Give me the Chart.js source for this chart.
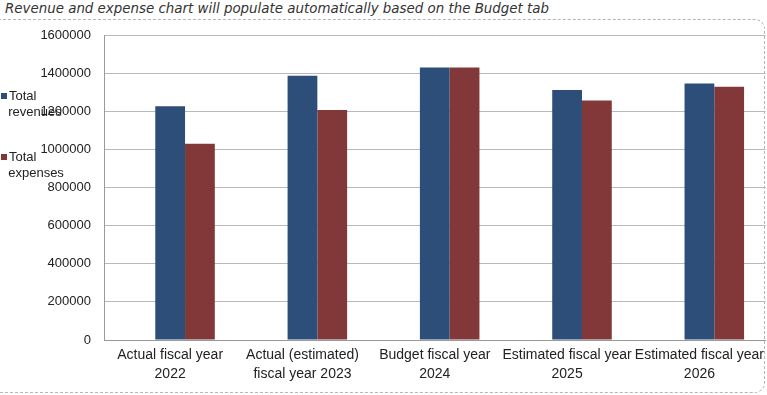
<!DOCTYPE html>
<html lang="en">
<head>
  <meta charset="UTF-8">
  <title>Revenue and expense chart</title>
  <script src="https://cdn.jsdelivr.net/npm/chart.js"></script>
  <style>
    html, body { margin: 0; padding: 0; background: #fff; }
    body { width: 767px; height: 395px; overflow: hidden; position: relative; font-family: "Liberation Sans", Arial, sans-serif; }
    .title { position: absolute; left: 5px; top: 1px; font-family: "DejaVu Sans", sans-serif; font-style: italic; font-size: 13.4px; color: #333; white-space: nowrap; }
    .frame { position: absolute; left: -12px; top: 19px; width: 775px; height: 372px; border: 1px dashed #b5b5b5; border-radius: 10px; }
    .wrap { position: absolute; left: 0; top: 0; width: 770px; height: 395px; }
    .legend { position: absolute; left: 1px; font-size: 13px; color: #222; line-height: 16px; }
    .legend i { display: inline-block; width: 6px; height: 6px; margin-right: 2px; vertical-align: 1px; }
  </style>
</head>
<body>
  <div class="title">Revenue and expense chart will populate automatically based on the Budget tab</div>
  <div class="frame"></div>
  <div class="wrap"><canvas id="budgetChart" width="770" height="395"></canvas></div>
  <div class="legend" style="top:88px"><i style="background:#2d4e78"></i>Total<br>&nbsp;&nbsp;revenues</div>
  <div class="legend" style="top:149px"><i style="background:#823838"></i>Total<br>&nbsp;&nbsp;expenses</div>

  <script>
    // data
    const years = [
      ['Actual fiscal year', '2022'],
      ['Actual (estimated)', 'fiscal year 2023'],
      ['Budget fiscal year', '2024'],
      ['Estimated fiscal year', '2025'],
      ['Estimated fiscal year', '2026']
    ];
    const totalRevenues = [1226000, 1386000, 1430000, 1311000, 1346000];
    const totalExpenses = [1030000, 1207000, 1429000, 1257000, 1329000];
    const yTicks = [0, 200000, 400000, 600000, 800000, 1000000, 1200000, 1400000, 1600000];

    // in the original the revenue bar sits on the label, expenses to its right
    const shiftBars = {
      id: 'shiftBars',
      beforeDatasetsDraw(chart) {
        const bar = chart.getDatasetMeta(0).data[0];
        chart.ctx.save();
        chart.ctx.translate(bar ? bar.width / 2 : 0, 0);
      },
      afterDatasetsDraw(chart) {
        chart.ctx.restore();
      }
    };

    new Chart(document.getElementById('budgetChart'), {
      type: 'bar',
      data: {
        labels: years,
        datasets: [
          { label: 'Total revenues', data: totalRevenues, backgroundColor: '#2d4e78' },
          { label: 'Total expenses', data: totalExpenses, backgroundColor: '#823838' }
        ]
      },
      options: {
        responsive: false,
        animation: false,
        layout: { padding: { top: 35, bottom: 5, left: 0, right: 0 } },
        categoryPercentage: 0.45,
        barPercentage: 1,
        plugins: { legend: { display: false }, tooltip: { enabled: false } },
        scales: {
          x: {
            grid: { display: false, drawTicks: false },
            border: { color: '#9a9a9a' },
            ticks: { color: '#222', font: { family: 'Liberation Sans', size: 14, lineHeight: 1.35 }, padding: 6, maxRotation: 0, autoSkip: false },
            afterFit(scale) { scale.height = 50; }
          },
          y: {
            min: 0,
            max: 1600000,
            afterBuildTicks(scale) { scale.ticks = yTicks.map(v => ({ value: v })); },
            grid: { color: '#b4bac0', drawTicks: false },
            border: { color: '#9a9a9a' },
            ticks: { color: '#222', font: { family: 'Liberation Sans', size: 13 }, padding: 13, callback: v => String(v) },
            afterFit(scale) { scale.width = 104; }
          }
        }
      },
      plugins: [shiftBars]
    });
  </script>
</body>
</html>
